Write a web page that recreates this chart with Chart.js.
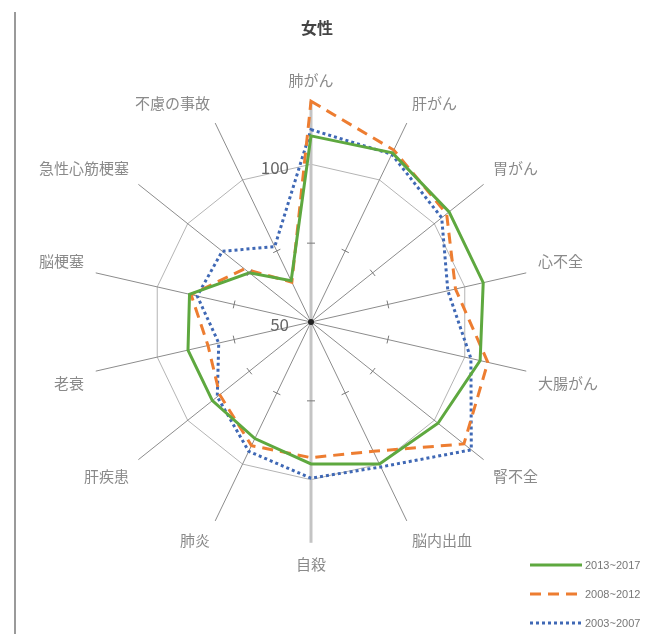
<!DOCTYPE html>
<html>
<head>
<meta charset="utf-8">
<script src="https://cdn.jsdelivr.net/npm/chart.js@4/dist/chart.umd.min.js"></script>
<style>
  body { margin: 0; background: #fff; }
  #wrap { position: relative; width: 664px; height: 634px; }
  #edge { position: absolute; left: 14px; top: 12px; width: 2px; height: 622px; background: #9a9a9a; }
  #legend { position: absolute; left: 530px; top: 550px; font-family: 'Liberation Sans', sans-serif; font-size: 11px; color: #777; }
  #legend div { height: 29px; display: flex; align-items: center; }
  #legend svg { margin-right: 3px; }
</style>
</head>
<body>
<div id="wrap">
  <canvas id="myChart" width="664" height="634"></canvas>
  <div id="edge"></div>
  <div id="legend"></div>
</div>
<script>
const categories = ['肺がん', '肝がん', '胃がん', '心不全', '大腸がん', '腎不全', '脳内出血', '自殺', '肺炎', '肝疾患', '老衰', '脳梗塞', '急性心筋梗塞', '不慮の事故'];
const seriesNames = ['2013~2017', '2008~2012', '2003~2007'];
const v2013 = [109, 109.5, 106, 106, 105, 101.5, 100, 95, 91, 90, 90, 89.5, 75, 64.5];
const v2008 = [120, 110.5, 105, 97, 107.5, 112, 95.5, 93, 93.5, 87, 83.5, 89, 77, 64];
const v2003 = [111, 109, 103, 94.5, 102, 115, 101, 99.5, 95.5, 88, 80, 87, 86, 76.5];
const tickLabels = [50, 100];

const colors = ['#5ea83f', '#ED7D31', '#3f68b5'];
const dashes = [[], [11, 7], [3, 3]];
const jp = "'Noto Sans CJK JP', 'Noto Sans', sans-serif";

// tick marks at 75, value labels, center dot
const axisExtras = {
  id: 'axisExtras',
  afterDraw(chart) {
    const s = chart.scales.r;
    const c = chart.ctx;
    c.save();
    c.strokeStyle = '#7a7a7a';
    c.lineWidth = 1;
    for (let i = 0; i < categories.length; i++) {
      const p = s.getPointPositionForValue(i, 75);
      const a = s.getIndexAngle(i);
      const dx = Math.cos(a) * 4, dy = Math.sin(a) * 4;
      c.beginPath();
      c.moveTo(p.x - dx, p.y - dy);
      c.lineTo(p.x + dx, p.y + dy);
      c.stroke();
    }
    c.fillStyle = '#222';
    c.beginPath();
    c.arc(s.xCenter, s.yCenter, 3, 0, Math.PI * 2);
    c.fill();
    c.font = '17px ' + jp;
    c.fillStyle = '#666';
    c.textAlign = 'right';
    c.textBaseline = 'middle';
    tickLabels.forEach(v => {
      const p = s.getPointPositionForValue(0, v);
      c.fillText(String(v), p.x - 22, p.y + 3);
    });
    c.restore();
  }
};

new Chart(document.getElementById('myChart'), {
  type: 'radar',
  data: {
    labels: categories,
    datasets: [
      { label: seriesNames[0], data: v2013 },
      { label: seriesNames[1], data: v2008 },
      { label: seriesNames[2], data: v2003 }
    ].map((d, i) => Object.assign(d, {
      borderColor: colors[i],
      backgroundColor: 'transparent',
      borderWidth: 3,
      borderDash: dashes[i],
      fill: false,
      pointRadius: 0,
      tension: 0
    }))
  },
  options: {
    responsive: false,
    animation: false,
    layout: { padding: { left: 12, right: 42, top: 0, bottom: 61 } },
    plugins: {
      legend: { display: false },
      tooltip: { enabled: false },
      title: {
        display: true,
        text: '女性',
        color: '#444',
        font: { size: 16, weight: 'bold', family: jp, lineHeight: 1.2 },
        padding: { top: 18, bottom: 34 }
      }
    },
    scales: {
      r: {
        min: 50,
        max: 120,
        ticks: { stepSize: 25, display: false },
        grid: {
          circular: false,
          color: ctx => ctx.tick && ctx.tick.value === 100 ? '#b4b4b4' : 'rgba(0,0,0,0)',
          lineWidth: 1
        },
        angleLines: {
          color: ctx => (ctx.index === 0 || ctx.index === 7) ? '#c4c4c4' : '#8c8c8c',
          lineWidth: ctx => (ctx.index === 0 || ctx.index === 7) ? 3 : 1
        },
        pointLabels: {
          color: '#8a8a8a',
          font: { size: 15, family: jp },
          padding: 12
        }
      }
    }
  },
  plugins: [axisExtras]
});

// legend
const lg = document.getElementById('legend');
seriesNames.forEach((n, i) => {
  const row = document.createElement('div');
  row.innerHTML = '<svg width="52" height="6"><line x1="0" y1="3" x2="52" y2="3" stroke="' + colors[i] +
    '" stroke-width="3" stroke-dasharray="' + (dashes[i].length ? dashes[i].join(',') : 'none') + '"/></svg>' + n;
  lg.appendChild(row);
});
</script>
</body>
</html>
